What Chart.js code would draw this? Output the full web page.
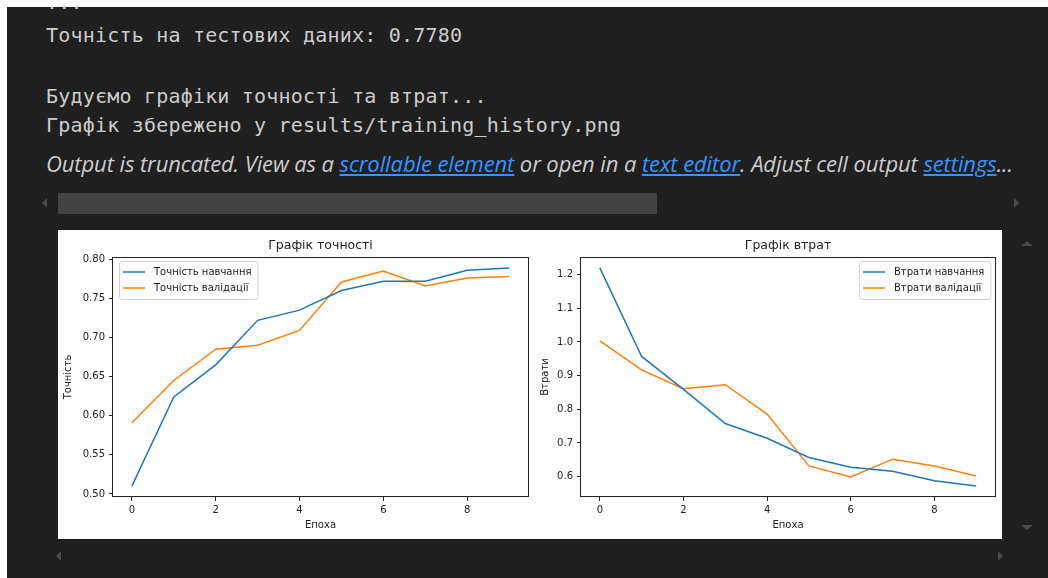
<!DOCTYPE html>
<html lang="uk">
<head>
<meta charset="UTF-8">
<title>Training history</title>
<script src="https://cdn.jsdelivr.net/npm/chart.js"></script>
<style>
    body {
        margin: 0;
        width: 1048px;
        height: 578px;
        background: #ffffff;
        overflow: hidden;
        position: relative;
    }
    #cell {
        position: absolute;
        left: 7px; top: 7px; right: 0; bottom: 0;
        background: #1f1f1f;
    }
    .mono {
        position: absolute;
        left: 46px;
        font-family: 'DejaVu Sans Mono', monospace;
        font-size: 20px;
        line-height: 30px;
        letter-spacing: 0.2px;
        color: #cccccc;
        white-space: pre;
    }
    #note {
        position: absolute;
        left: 46px; top: 148px;
        font-family: 'Open Sans', sans-serif;
        font-style: italic;
        font-size: 22px;
        line-height: 30px;
        letter-spacing: -0.1px;
        color: #cccccc;
        white-space: pre;
    }
    #note a { color: #3794ff; text-decoration: underline; }
    #hbar {
        position: absolute;
        left: 58px; top: 193px; width: 599px; height: 21px;
        background: #434343;
    }
    #panel {
        position: absolute;
        left: 58px; top: 230px; width: 944px; height: 309px;
        background: #ffffff;
    }
    canvas { position: absolute; top: 230px; }
    .tri { position: absolute; width: 0; height: 0; }
    .tl { border-top: 5px solid transparent; border-bottom: 5px solid transparent; border-right: 5px solid #4a4a4a; }
    .tr { border-top: 5px solid transparent; border-bottom: 5px solid transparent; border-left: 5px solid #4a4a4a; }
    .tu { border-left: 6px solid transparent; border-right: 6px solid transparent; border-bottom: 5px solid #4a4a4a; }
    .td { border-left: 6px solid transparent; border-right: 6px solid transparent; border-top: 5px solid #4a4a4a; }
</style>
</head>
<body>
    <div id="cell"></div>
    <div class="mono" style="top:-13px">...</div>
    <div class="mono" style="top:20px">Точність на тестових даних: 0.7780</div>
    <div class="mono" style="top:81px">Будуємо графіки точності та втрат...</div>
    <div class="mono" style="top:110px">Графік збережено у results/training_history.png</div>
    <div id="note">Output is truncated. View as a <a>scrollable element</a> or open in a <a>text editor</a>. Adjust cell output <a>settings</a>...</div>
    <div id="hbar"></div>
    <div class="tri tl" style="left:42px; top:198px"></div>
    <div class="tri tr" style="left:1014px; top:198px"></div>
    <div class="tri tu" style="left:1021px; top:241px"></div>
    <div class="tri td" style="left:1021px; top:525px"></div>
    <div class="tri tl" style="left:56px; top:551px"></div>
    <div class="tri tr" style="left:998px; top:551px"></div>
    <div id="panel"></div>
    <canvas id="accChart" width="476" height="309" style="left:58px"></canvas>
    <canvas id="lossChart" width="468" height="309" style="left:534px"></canvas>

    <script>
        // history values
        const epochs = [0, 1, 2, 3, 4, 5, 6, 7, 8, 9];
        const trainAcc = [0.510, 0.624, 0.665, 0.722, 0.735, 0.760, 0.772, 0.772, 0.786, 0.789];
        const valAcc = [0.591, 0.645, 0.685, 0.690, 0.709, 0.771, 0.785, 0.766, 0.776, 0.778];
        const trainLoss = [1.220, 0.957, 0.859, 0.758, 0.714, 0.657, 0.628, 0.616, 0.588, 0.572];
        const valLoss = [1.003, 0.917, 0.861, 0.873, 0.786, 0.632, 0.599, 0.652, 0.632, 0.602];

        const epochTicks = [0, 2, 4, 6, 8];
        const accTicks = [0.50, 0.55, 0.60, 0.65, 0.70, 0.75, 0.80];
        const lossTicks = [0.6, 0.7, 0.8, 0.9, 1.0, 1.1, 1.2];

        const BLUE = '#1f77b4';
        const ORANGE = '#ff7f0e';
        const INK = '#222222';

        Chart.defaults.font.family = "'DejaVu Sans', sans-serif";
        Chart.defaults.font.size = 10;
        Chart.defaults.color = INK;

        // matplotlib style: 5% margin round the data
        function padRange(a, b) {
            const all = a.concat(b);
            const lo = Math.min(...all), hi = Math.max(...all);
            const m = (hi - lo) * 0.05;
            return [lo - m, hi + m];
        }

        function points(ys) {
            return epochs.map((e, i) => ({ x: e, y: ys[i] }));
        }

        // axes frame, title over the axes, legend box inside the plot
        const mplBox = {
            id: 'mplBox',
            afterDraw(chart, args, opts) {
                const { ctx, chartArea: a } = chart;
                ctx.save();
                ctx.strokeStyle = INK;
                ctx.lineWidth = 1;
                ctx.strokeRect(Math.round(a.left) - 0.5, Math.round(a.top) + 0.5,
                    Math.round(a.right - a.left) + 1, Math.round(a.bottom - a.top) - 1);

                ctx.fillStyle = INK;
                ctx.font = "12.5px 'DejaVu Sans'";
                ctx.textAlign = 'center';
                ctx.textBaseline = 'middle';
                ctx.fillText(opts.title, (a.left + a.right) / 2, a.top - 11);

                ctx.font = "10px 'DejaVu Sans'";
                ctx.textAlign = 'left';
                const sets = chart.data.datasets;
                const tw = Math.max(...sets.map(d => ctx.measureText(d.label).width));
                const w = 35 + tw + 6, h = 38;
                const x = opts.corner === 'right' ? Math.round(a.right - 5 - w) : Math.round(a.left + 6);
                const y = Math.round(a.top + 4);
                ctx.fillStyle = 'rgba(255,255,255,0.8)';
                ctx.strokeStyle = '#d0d0d0';
                ctx.beginPath();
                ctx.roundRect(x + 0.5, y + 0.5, w, h, 3);
                ctx.fill();
                ctx.stroke();
                sets.forEach((d, i) => {
                    const ry = y + 11 + i * 16;
                    ctx.strokeStyle = d.borderColor;
                    ctx.lineWidth = 1.5;
                    ctx.beginPath();
                    ctx.moveTo(x + 4, ry);
                    ctx.lineTo(x + 26, ry);
                    ctx.stroke();
                    ctx.fillStyle = INK;
                    ctx.fillText(d.label, x + 35, ry);
                });
                ctx.restore();
            }
        };

        function makeChart(id, cfg) {
            const [ymin, ymax] = padRange(cfg.train, cfg.val);
            return new Chart(document.getElementById(id), {
                type: 'line',
                data: {
                    datasets: [
                        { label: cfg.labels[0], data: points(cfg.train), borderColor: BLUE },
                        { label: cfg.labels[1], data: points(cfg.val), borderColor: ORANGE }
                    ]
                },
                options: {
                    responsive: false,
                    animation: false,
                    elements: {
                        point: { radius: 0 },
                        line: { borderWidth: 1.5, tension: 0, fill: false }
                    },
                    layout: { padding: { left: 0, top: 27, right: cfg.padRight, bottom: 0 } },
                    plugins: {
                        legend: { display: false },
                        tooltip: { enabled: false },
                        title: { display: false },
                        mplBox: { corner: cfg.corner, title: cfg.title }
                    },
                    scales: {
                        x: {
                            type: 'linear',
                            min: -0.45,
                            max: 9.45,
                            afterBuildTicks: s => { s.ticks = epochTicks.map(v => ({ value: v })); },
                            afterFit: s => { s.height = 42; },
                            grid: { drawOnChartArea: false, drawTicks: true, tickLength: 4, tickColor: INK },
                            border: { display: false },
                            ticks: { color: INK, padding: 3, autoSkip: false, maxRotation: 0,
                                     callback: v => String(v) },
                            title: { display: true, text: 'Епоха', color: INK, padding: { top: 0, bottom: 8 } }
                        },
                        y: {
                            min: ymin,
                            max: ymax,
                            afterBuildTicks: s => { s.ticks = cfg.ticks.map(v => ({ value: v })); },
                            afterFit: s => { s.width = cfg.yWidth; },
                            grid: { drawOnChartArea: false, drawTicks: true, tickLength: 4, tickColor: INK },
                            border: { display: false },
                            ticks: { color: INK, padding: 4, autoSkip: false,
                                     callback: v => v.toFixed(cfg.digits) },
                            title: { display: true, text: cfg.yTitle, color: INK, padding: { top: cfg.yTitlePad, bottom: 0 } }
                        }
                    }
                },
                plugins: [mplBox]
            });
        }

        makeChart('accChart', {
            title: 'Графік точності',
            yTitle: 'Точність',
            labels: ['Точність навчання', 'Точність валідації'],
            train: trainAcc,
            val: valAcc,
            ticks: accTicks,
            digits: 2,
            yWidth: 55,
            yTitlePad: 4,
            padRight: 6,
            corner: 'left'
        });

        makeChart('lossChart', {
            title: 'Графік втрат',
            yTitle: 'Втрати',
            labels: ['Втрати навчання', 'Втрати валідації'],
            train: trainLoss,
            val: valLoss,
            ticks: lossTicks,
            digits: 1,
            yWidth: 47,
            yTitlePad: 5,
            padRight: 7,
            corner: 'right'
        });
    </script>
</body>
</html>
